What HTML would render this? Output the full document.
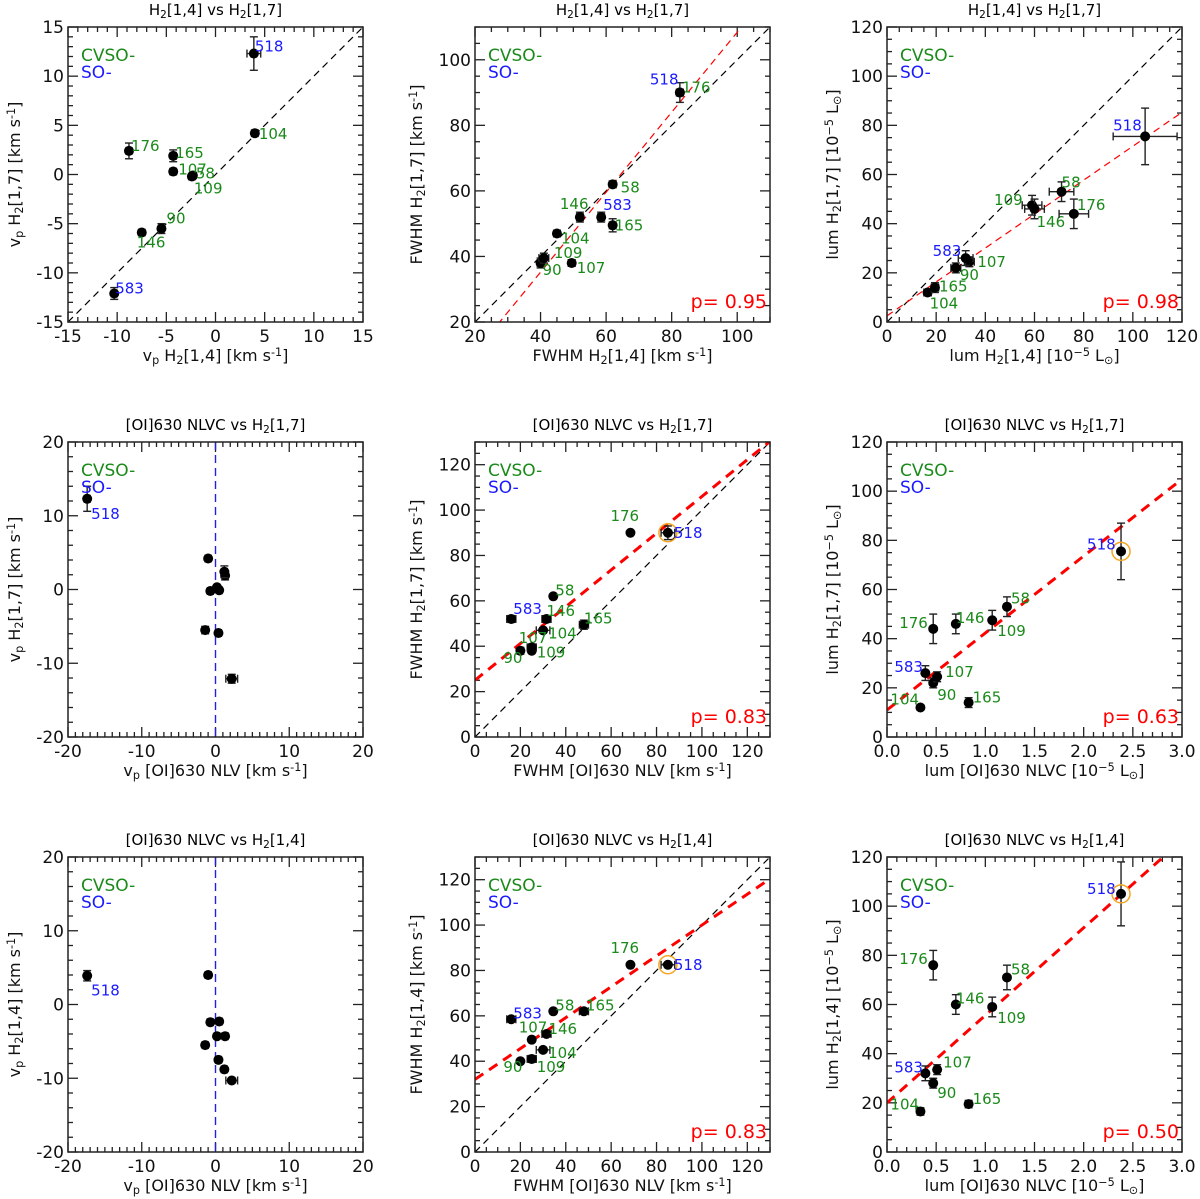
<!DOCTYPE html>
<html><head><meta charset="utf-8">
<style>
html,body{margin:0;padding:0;background:#fff;}
svg{display:block;font-family:"DejaVu Sans","Liberation Sans",sans-serif;}
</style></head>
<body>
<svg id="fig" width="1200" height="1199" viewBox="0 0 1200 1199" xmlns="http://www.w3.org/2000/svg"></svg>
<script>
// object ids
const ids = ["58","90","104","107","109","146","165","176","518","583"];
// peak velocities
const vp14 = [-2.3,-5.5,4.0,-4.3,-2.4,-7.5,-4.3,-8.8,3.9,-10.3];
const vp14e = [0.3,0.3,0.3,0.3,0.3,0.3,0.3,0.3,0.7,0.3];
const vp17 = [-0.1,-5.5,4.2,0.3,-0.2,-5.9,1.9,2.4,12.3,-12.1];
const vp17e = [0.3,0.5,0.3,0.3,0.3,0.3,0.6,0.8,1.7,0.6];
const vpOI = [0.5,-1.4,-1.0,0.2,-0.7,0.4,1.3,1.2,-17.4,2.2];
const vpOIe = [0.4,0.4,0.4,0.3,0.4,0.4,0.4,0.4,0.4,0.8];
// FWHM
const fw14 = [62,40,45,49.5,41,52,62,82.5,82.5,58.5];
const fw14e = [1,1,1,1,1.5,1,1,1,1,1];
const fw17 = [62,38,47,38,39.5,52,49.5,90,90,52];
const fw17e = [1,1.5,1,1,1.5,1.5,2,1,3,1.5];
const fwOI = [34.5,20,30,25,25,31.5,48,68.5,85,16];
const fwOIe = [1,1,3,1,2,2,2,1,3,2];
// luminosities
const l14 = [71,28,16.5,33.5,59,60,19.5,76,105,32];
const l14e = [5,2,1.5,2,4,4,1.5,6,13,3];
const l17 = [53,22,12,24.5,47.5,46,14,44,75.5,26];
const l17e = [4,2,1,2,4,4,2,6,11.5,3];
const lOI = [1.22,0.47,0.34,0.51,1.07,0.7,0.83,0.47,2.38,0.39];
const lOIe = [0.02,0.02,0.02,0.02,0.02,0.02,0.02,0.02,0.02,0.02];
// fits [slope, intercept] and correlation coefficients
const fits = [null,[1.22,-13.6],[0.69,2.5],null,[0.81,25],[31.3,11],null,[0.68,32],[35.6,20]];
const pvals = [null,"0.95","0.98",null,"0.83","0.63",null,"0.83","0.50"];

const NS="http://www.w3.org/2000/svg";
const svg=document.getElementById('fig');
function mk(tag,attrs,parent){const e=document.createElementNS(NS,tag);for(const k in attrs)e.setAttribute(k,attrs[k]);(parent||svg).appendChild(e);return e;}
function rich(el,s){
  const re=/([_^])\{([^}]*)\}/g;let last=0,m;
  while((m=re.exec(s))){
    if(m.index>last){const t=mk('tspan',{},el);t.textContent=s.slice(last,m.index);}
    const t=mk('tspan',{'baseline-shift':m[1]==='_'?'-30%':'45%','font-size':'70%'},el);t.textContent=m[2];
    last=re.lastIndex;
  }
  if(last<s.length){const t=mk('tspan',{},el);t.textContent=s.slice(last);}
}
const cols=[[68,363],[475,770],[887,1182]];
const rows=[[27,322],[442,737],[857,1152]];
const t17="H_{2}[1,7]", t14="H_{2}[1,4]";
const panels=[
 {x:vp14,xe:vp14e,y:vp17,ye:vp17e,xd:[-15,15],yd:[-15,15],xM:5,xm:1,yM:5,ym:1,title:t14+" vs "+t17,xl:"v_{p} H_{2}[1,4] [km s^{-1}]",yl:"v_{p} H_{2}[1,7] [km s^{-1}]",diag:true,
  lab:{"518":[1,-2],"104":[4,6],"176":[2,0],"165":[2,2],"107":[5,3],"58":[3,3],"109":[2,17],"90":[5,-5],"146":[-5,15],"583":[1,0]}},
 {x:fw14,xe:fw14e,y:fw17,ye:fw17e,xd:[20,110],yd:[20,110],xM:20,xm:5,yM:20,ym:5,title:t14+" vs "+t17,xl:"FWHM H_{2}[1,4] [km s^{-1}]",yl:"FWHM H_{2}[1,7] [km s^{-1}]",diag:true,
  lab:{"518":[-30,-8],"176":[2,0],"58":[8,8],"146":[-20,-8],"583":[2,-7],"165":[2,5],"104":[4,10],"109":[10,0],"90":[2,12],"107":[5,10]}},
 {x:l14,xe:l14e,y:l17,ye:l17e,xd:[0,120],yd:[0,120],xM:20,xm:5,yM:20,ym:5,title:t14+" vs "+t17,xl:"lum H_{2}[1,4] [10^{−5} L_{⊙}]",yl:"lum H_{2}[1,7] [10^{−5} L_{⊙}]",diag:true,
  lab:{"518":[-32,-6],"58":[0,-4],"176":[3,-4],"109":[-38,0],"146":[2,18],"583":[-33,-2],"107":[8,5],"90":[4,12],"165":[4,4],"104":[2,16]}},
 {x:vpOI,xe:vpOIe,y:vp17,ye:vp17e,xd:[-20,20],yd:[-20,20],xM:10,xm:1,yM:10,ym:2,title:"[OI]630 NLVC vs "+t17,xl:"v_{p} [OI]630 NLV [km s^{-1}]",yl:"v_{p} H_{2}[1,7] [km s^{-1}]",vline:true,
  lab:{"518":[4,20]}},
 {x:fwOI,xe:fwOIe,y:fw17,ye:fw17e,xd:[0,130],yd:[0,130],xM:20,xm:5,yM:20,ym:5,title:"[OI]630 NLVC vs "+t17,xl:"FWHM [OI]630 NLV [km s^{-1}]",yl:"FWHM H_{2}[1,7] [km s^{-1}]",diag:true,circ:true,
  lab:{"176":[-20,-12],"518":[6,5],"58":[2,-1],"583":[2,-5],"146":[0,-3],"165":[0,-1],"107":[-13,-8],"104":[5,8],"90":[-17,12],"109":[5,10]}},
 {x:lOI,xe:lOIe,y:l17,ye:l17e,xd:[0,3],yd:[0,120],xM:0.5,xm:0.1,yM:20,ym:5,xf:1,title:"[OI]630 NLVC vs "+t17,xl:"lum [OI]630 NLVC [10^{−5} L_{⊙}]",yl:"lum H_{2}[1,7] [10^{−5} L_{⊙}]",circ:true,
  lab:{"518":[-34,-2],"176":[-34,-1],"146":[0,-1],"58":[4,-3],"109":[5,16],"583":[-31,-1],"107":[8,0],"90":[4,17],"165":[4,0],"104":[-30,-3]}},
 {x:vpOI,xe:vpOIe,y:vp14,ye:vp14e,xd:[-20,20],yd:[-20,20],xM:10,xm:1,yM:10,ym:2,title:"[OI]630 NLVC vs "+t14,xl:"v_{p} [OI]630 NLV [km s^{-1}]",yl:"v_{p} H_{2}[1,4] [km s^{-1}]",vline:true,
  lab:{"518":[4,20]}},
 {x:fwOI,xe:fwOIe,y:fw14,ye:fw14e,xd:[0,130],yd:[0,130],xM:20,xm:5,yM:20,ym:5,title:"[OI]630 NLVC vs "+t14,xl:"FWHM [OI]630 NLV [km s^{-1}]",yl:"FWHM H_{2}[1,4] [km s^{-1}]",diag:true,circ:true,
  lab:{"176":[-20,-12],"518":[6,5],"58":[2,-1],"165":[2,-1],"583":[2,-1],"107":[-13,-7],"146":[2,0],"104":[5,8],"109":[5,13],"90":[-17,11]}},
 {x:lOI,xe:lOIe,y:l14,ye:l14e,xd:[0,3],yd:[0,120],xM:0.5,xm:0.1,yM:20,ym:5,xf:1,title:"[OI]630 NLVC vs "+t14,xl:"lum [OI]630 NLVC [10^{−5} L_{⊙}]",yl:"lum H_{2}[1,4] [10^{−5} L_{⊙}]",circ:true,
  lab:{"518":[-34,0],"176":[-34,-1],"58":[4,-3],"146":[0,-1],"109":[5,16],"583":[-31,-1],"107":[6,-2],"90":[4,15],"165":[4,0],"104":[-30,-2]}}
];

panels.forEach((P,i)=>{
  const [x0,x1]=cols[i%3],[y0,y1]=rows[Math.floor(i/3)];
  const g=mk('g',{});
  
  
  const sx=v=>x0+(v-P.xd[0])/(P.xd[1]-P.xd[0])*(x1-x0);
  const sy=v=>y1-(v-P.yd[0])/(P.yd[1]-P.yd[0])*(y1-y0);
  const cid='clip'+i;
  const cp=mk('clipPath',{id:cid},g);mk('rect',{x:x0,y:y0,width:x1-x0,height:y1-y0},cp);
  const ti=mk('text',{x:(x0+x1)/2,y:y0-12,'text-anchor':'middle','font-size':15},g);
  
  
  rich(ti,P.title);
  const tk=mk('g',{stroke:'#222','stroke-width':1.3},g);
  
  
  const nxm=Math.round((P.xd[1]-P.xd[0])/P.xm);
  for(let k=0;k<=nxm;k++){const v=P.xd[0]+k*P.xm;const maj=Math.abs(v/P.xM-Math.round(v/P.xM))<1e-6;const L=maj?10:5;const X=sx(v);
    mk('line',{x1:X,x2:X,y1:y1,y2:y1-L},tk);mk('line',{x1:X,x2:X,y1:y0,y2:y0+L},tk);
    if(maj){const t=mk('text',{x:X,y:y1+20,'text-anchor':'middle','font-size':17,stroke:'none',fill:'#111'},g);
      
      
      t.textContent=P.xf?v.toFixed(1):String(Math.round(v));}}
  const nym=Math.round((P.yd[1]-P.yd[0])/P.ym);
  for(let k=0;k<=nym;k++){const v=P.yd[0]+k*P.ym;const maj=Math.abs(v/P.yM-Math.round(v/P.yM))<1e-6;const L=maj?10:5;const Y=sy(v);
    mk('line',{y1:Y,y2:Y,x1:x0,x2:x0+L},tk);mk('line',{y1:Y,y2:Y,x1:x1,x2:x1-L},tk);
    if(maj){const t=mk('text',{x:x0-4,y:Y+6,'text-anchor':'end','font-size':17,fill:'#111'},g);
      
      
      t.textContent=String(Math.round(v));}}
  const xt=mk('text',{x:(x0+x1)/2,y:y1+39,'text-anchor':'middle','font-size':16,fill:'#111'},g);
  
  
  rich(xt,P.xl);
  const yx=x0-(i%3===0?48:(i%3===1?53:49));
  const yt=mk('text',{x:yx,y:(y0+y1)/2,'text-anchor':'middle','font-size':16,fill:'#111',transform:`rotate(-90 ${yx} ${(y0+y1)/2})`},g);
  
  
  rich(yt,P.yl);
  const ln=mk('g',{'clip-path':`url(#${cid})`},g);
  if(P.diag){const a=Math.max(P.xd[0],P.yd[0]),b=Math.min(P.xd[1],P.yd[1]);
    const d=mk('line',{x1:sx(a),y1:sy(a),x2:sx(b),y2:sy(b),stroke:'#000','stroke-width':1.2,'stroke-dasharray':'7,5'},ln);
    
    }
  if(P.vline){const d=mk('line',{x1:sx(0),y1:y0,x2:sx(0),y2:y1,stroke:'#2222dd','stroke-width':1.4,'stroke-dasharray':'8,5'},ln);
    
    }
  const F=fits[i];
  if(F){const thick=i>=3;
    const d=mk('line',{x1:sx(P.xd[0]),y1:sy(F[0]*P.xd[0]+F[1]),x2:sx(P.xd[1]),y2:sy(F[0]*P.xd[1]+F[1]),stroke:'#f00','stroke-width':thick?3:1.2,'stroke-dasharray':thick?'10,7':'7,5'},ln);
    
    }
  ids.forEach((id,j)=>{
    const X=sx(P.x[j]),Y=sy(P.y[j]);
    const pg=mk('g',{stroke:'#222','stroke-width':1.4},g);
    
    
    const xa=sx(P.x[j]-P.xe[j]),xb=sx(P.x[j]+P.xe[j]),ya=sy(P.y[j]-P.ye[j]),yb=sy(P.y[j]+P.ye[j]);
    mk('line',{x1:xa,x2:xb,y1:Y,y2:Y},pg);mk('line',{x1:xa,x2:xa,y1:Y-4,y2:Y+4},pg);mk('line',{x1:xb,x2:xb,y1:Y-4,y2:Y+4},pg);
    mk('line',{x1:X,x2:X,y1:ya,y2:yb},pg);mk('line',{x1:X-4,x2:X+4,y1:ya,y2:ya},pg);mk('line',{x1:X-4,x2:X+4,y1:yb,y2:yb},pg);
    mk('circle',{cx:X,cy:Y,r:5,fill:'#000',stroke:'none'},pg);
    if(P.circ&&id==="518"){const c=mk('circle',{cx:X,cy:Y,r:9,fill:'none',stroke:'#f5a623','stroke-width':1.5},g);
      
      }
    const o=P.lab[id];
    if(o){const t=mk('text',{x:X+o[0],y:Y+o[1],'font-size':15,fill:(id==="518"||id==="583")?'#1a1aff':'#1a8a1a'},g);
      
      
      t.textContent=id;}
  });
  const c1=mk('text',{x:x0+13,y:y0+34,'font-size':17,fill:'#1a8a1a'},g);
  
  
  c1.textContent='CVSO-';
  const c2=mk('text',{x:x0+13,y:y0+51,'font-size':17,fill:'#1a1aff'},g);
  
  
  c2.textContent='SO-';
  if(pvals[i]){const t=mk('text',{x:x1-3,y:y1-14,'text-anchor':'end','font-size':19,fill:'#f00'},g);
    
    
    t.textContent='p= '+pvals[i];}
  const fr=mk('rect',{x:x0,y:y0,width:x1-x0,height:y1-y0,fill:'none',stroke:'#222','stroke-width':1.5},g);
  
  
});
</script>
</body></html>
